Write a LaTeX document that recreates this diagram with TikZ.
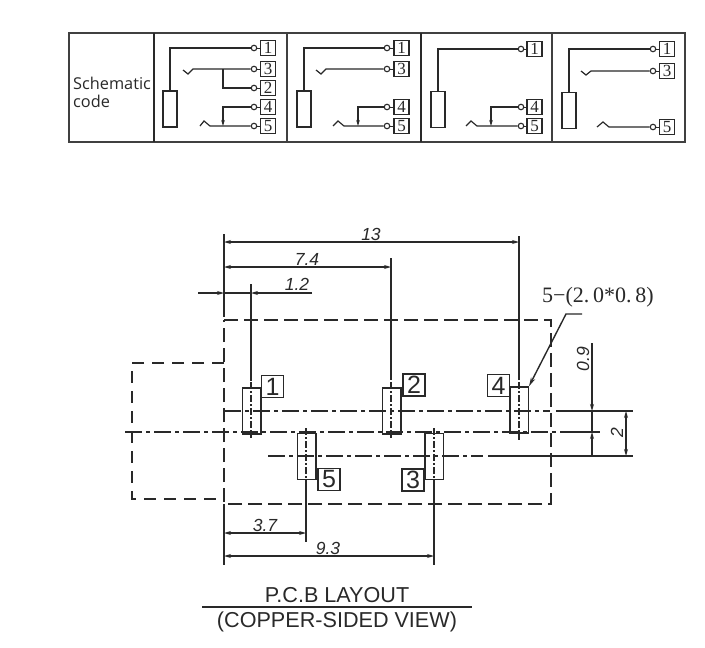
\documentclass[tikz,border=0pt]{standalone}
\usepackage{fontspec}
\setmainfont{Liberation Sans}
\newfontfamily\labelserif{Liberation Serif}
\newfontfamily\headfont{Open Sans}
\usetikzlibrary{arrows.meta}
\definecolor{ink}{gray}{0.16}
\definecolor{framegray}{gray}{0.25}
\tikzset{
  x=1pt,y=-1pt,
  dimtip/.tip={Stealth[length=7pt,width=4pt]},
  smalltip/.tip={Stealth[length=6pt,width=3.6pt]},
  wire/.style={draw=ink,line width=1.2pt},
  framebar/.style={draw=framegray,line width=1.5pt},
  coil/.style={draw=ink,line width=1.2pt,minimum width=14pt,minimum height=36pt,inner sep=0pt,fill=white},
  term/.style={draw=ink,line width=1.3pt,minimum width=15pt,minimum height=15pt,inner sep=0pt,font=\labelserif\fontsize{17}{17}\selectfont,text=ink},
  ring/.style={draw=ink,line width=1.1pt,circle,minimum size=5.5pt,inner sep=0pt,fill=white},
  pad/.style={draw=ink,line width=1.5pt,minimum width=18.5pt,minimum height=46pt,inner sep=0pt},
  padlabel/.style={draw=ink,line width=1.4pt,minimum width=22pt,minimum height=22pt,inner sep=0pt,font=\fontsize{25}{25}\selectfont,text=ink},
  outline/.style={draw=ink,line width=1.4pt,dash pattern=on 14pt off 6pt},
  centerline/.style={draw=ink,line width=1.3pt,dash pattern=on 17pt off 4pt on 4pt off 4pt},
  padaxis/.style={draw=ink,line width=1.1pt,dash pattern=on 7pt off 2pt on 2pt off 2pt},
  extline/.style={draw=ink,line width=1.4pt},
  dimline/.style={draw=ink,line width=1.3pt},
  dimtext/.style={font=\itshape\fontsize{17.5}{17.5}\selectfont,text=ink,inner sep=0pt},
  title/.style={font=\fontsize{21.6}{21.6}\selectfont,text=ink,inner sep=0pt}
}
% \termin{prefix}{digit}{ring x}{y}{box centre x}
\newcommand{\termin}[5]{%
  \node[ring] (#1r#2) at (#3,#4) {};
  \node[term] (#1t#2) at (#5,#4) {#2};
  \draw[wire,line width=.7pt] (#1r#2) -- (#1t#2);
}
\begin{document}
\begin{tikzpicture}
\useasboundingbox (0,0) rectangle (705,648);
\fill[white] (0,0) rectangle (705,648);

% frame
\coordinate (tl) at (69,33); \coordinate (tr) at (685,33);
\coordinate (bl) at (69,142); \coordinate (br) at (685,142);
\draw[framebar] (tl) -- (tr) -- (br) -- (bl) -- cycle;
\draw[wire] (154,33) -- (154,142);
\draw[framebar] (287,33) -- (287,142);
\draw[wire] (421,33) -- (421,142);
\draw[framebar] (552,33) -- (552,142);
\node[anchor=west,align=left,inner sep=0pt,text=ink,font=\headfont\fontsize{16.3}{18}\selectfont] (head) at (73,92) {Schematic\\code};

% cell 1
\node[coil] (a) at (170,109) {};
\termin{a}{1}{254}{48}{268}
\termin{a}{3}{254}{69}{268}
\termin{a}{2}{254}{88}{268}
\termin{a}{4}{254}{107}{268}
\termin{a}{5}{254}{126}{268}
\draw[wire] (a.north) |- (ar1);
\draw[wire] (183,70) -- (188,74) -- (193,69) -- (ar3);
\coordinate (aj) at (223,69);
\draw[wire] (aj) |- (ar2);
\coordinate (ak) at (223,126);
\draw[wire] (200,126) -- (204,121) -- (210,126) -- (ar5);
\draw[wire,-smalltip] (ar4) -| (ak);

% cell 2
\node[coil] (b) at (304,109) {};
\termin{b}{1}{387}{48}{401.5}
\termin{b}{3}{387}{69}{401.5}
\termin{b}{4}{387}{107}{401.5}
\termin{b}{5}{387}{126}{401.5}
\draw[wire] (b.north) |- (br1);
\draw[wire] (316,70) -- (321,74) -- (326,69) -- (br3);
\coordinate (bk) at (358,126);
\draw[wire] (333,126) -- (338,121) -- (344,126) -- (br5);
\draw[wire,-smalltip] (br4) -| (bk);

% cell 3
\node[coil] (c) at (438,109.5) {};
\termin{c}{1}{521}{49}{534.5}
\termin{c}{4}{521}{107}{534.5}
\termin{c}{5}{521}{126}{534.5}
\draw[wire] (c.north) |- (cr1);
\coordinate (ck) at (491,126);
\draw[wire] (466,126) -- (471,121) -- (477,126) -- (cr5);
\draw[wire,-smalltip] (cr4) -| (ck);

% cell 4
\node[coil] (d) at (569,110.5) {};
\termin{d}{1}{653}{49}{667}
\termin{d}{3}{653}{71}{667}
\termin{d}{5}{653}{127}{667}
\draw[wire] (d.north) |- (dr1);
\draw[wire] (581,71) -- (586,75) -- (591,71) -- (dr3);
\draw[wire] (597,127) -- (603,122) -- (609,127) -- (dr5);

% outlines
\draw[outline] (224,320) -- (551,320) -- (551,504) -- (224,504) -- cycle;
\draw[outline,dash pattern=on 12pt off 8pt,line width=1.2pt] (224,363) -- (132,363) -- (132,499) -- (224,499);

% pads
\node[pad] (p1) at (251.5,411) {};
\node[pad] (p2) at (391.5,411) {};
\node[pad] (p4) at (519,410) {};
\node[pad] (p5) at (306.5,456.5) {};
\node[pad] (p3) at (434,456.5) {};

% pad labels
\node[padlabel] (l1) at (272.5,386.5) {1};
\node[padlabel] (l2) at (414,385) {2};
\node[padlabel] (l4) at (498.5,385.5) {4};
\node[padlabel] (l5) at (329,479.5) {5};
\node[padlabel] (l3) at (413,480) {3};

% centre lines
\draw[centerline] (224,411) -- (550,411);
\draw[extline] (556,411) -- (633,411);
\draw[centerline] (125,432) -- (573,432);
\draw[extline] (573,432) -- (600,432);
\draw[centerline] (268,456) -- (483,456);
\draw[extline] (488,456) -- (633,456);
\draw[padaxis] (251,382) -- (251,438);
\draw[padaxis] (391,382) -- (391,438);
\draw[padaxis] (519,382) -- (519,440);
\draw[padaxis] (306,428) -- (306,482);
\draw[padaxis] (434,428) -- (434,482);

% extension lines
\draw[extline] (224,234) -- (224,317);
\draw[extline] (224,504) -- (224,565);
\draw[extline] (519,236) -- (519,380);
\draw[extline] (391,258) -- (391,380);
\draw[extline] (251,284) -- (251,381);
\draw[extline] (306,482) -- (306,542);
\draw[extline] (434,482) -- (434,565);

% horizontal dimensions
\coordinate (d13a) at (224,242); \coordinate (d13b) at (519,242);
\draw[dimline,dimtip-dimtip] (d13a) -- (d13b);
\node[dimtext] (t13) at (371,234) {13};
\coordinate (d74a) at (224,267); \coordinate (d74b) at (391,267);
\draw[dimline,dimtip-dimtip] (d74a) -- (d74b);
\node[dimtext] (t74) at (307,259) {7.4};
\coordinate (d12a) at (198,293); \coordinate (d12b) at (224,293);
\coordinate (d12c) at (312,293); \coordinate (d12d) at (251,293);
\draw[dimline,line width=1.6pt] (d12b) -- (d12d);
\draw[dimline,line width=1.6pt,-dimtip] (d12a) -- (d12b);
\draw[dimline,line width=1.6pt,-dimtip] (d12c) -- (d12d);
\node[dimtext] (t12) at (297,284) {1.2};
\coordinate (d37a) at (224,533); \coordinate (d37b) at (306,533);
\draw[dimline,dimtip-dimtip] (d37a) -- (d37b);
\node[dimtext] (t37) at (265,525) {3.7};
\coordinate (d93a) at (224,556); \coordinate (d93b) at (434,556);
\draw[dimline,dimtip-dimtip] (d93a) -- (d93b);
\node[dimtext] (t93) at (328,548) {9.3};

% vertical dimensions
\coordinate (v9a) at (592,343); \coordinate (v9b) at (592,411);
\coordinate (v9c) at (592,456); \coordinate (v9d) at (592,432);
\draw[dimline] (v9b) -- (v9d);
\draw[dimline,-dimtip] (v9a) -- (v9b);
\draw[dimline,-dimtip] (v9c) -- (v9d);
\node[dimtext,rotate=90] (t09) at (583,359) {0.9};
\coordinate (v2a) at (626,411); \coordinate (v2b) at (626,456);
\draw[dimline,dimtip-dimtip] (v2a) -- (v2b);
\node[dimtext,rotate=90] (t2) at (617,433) {2};

% leader
\coordinate (la) at (582,314); \coordinate (lb) at (566,314);
\draw[dimline,line width=1.4pt,-{Stealth[length=9pt,width=4.5pt]}] (la) -- (lb) -- (p4.north east);
\node[anchor=west,inner sep=0pt,text=ink,font=\labelserif\fontsize{22}{22}\selectfont] (lead) at (542,297) {5−(2.\,0*0.\,8)};

% title
\node[title] (ttop) at (337,595) {P.C.B LAYOUT};
\node[title] (tbot) at (337,622) {(COPPER-SIDED VIEW)};
\coordinate (ra) at (202,607); \coordinate (rb) at (472,607);
\draw[draw=ink,line width=1.8pt] (ra) -- (rb);
\end{tikzpicture}
\end{document}
